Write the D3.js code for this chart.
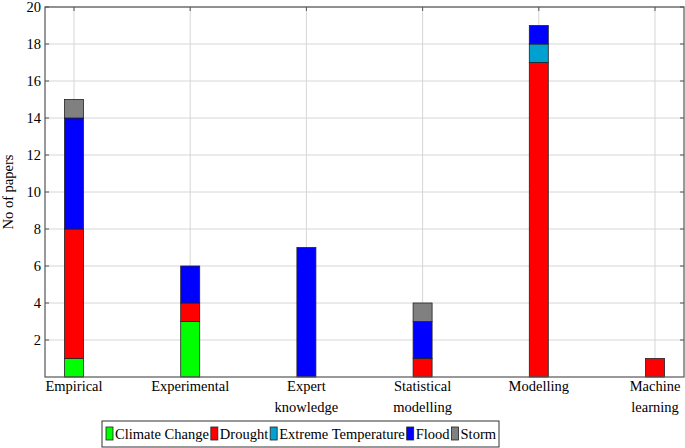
<!DOCTYPE html>
<html lang="en">
<head>
    <meta charset="UTF-8">
    <title>No of papers</title>
    <script src="https://d3js.org/d3.v7.min.js"></script>
    <style>
        body { margin: 0; background: #ffffff; }
    </style>
</head>
<body>
    <svg id="chart" width="685" height="448" font-family="'Liberation Serif', 'Times New Roman', serif"></svg>
    <script>
        const categories = [["Empirical"], ["Experimental"], ["Expert", "knowledge"], ["Statistical", "modelling"], ["Modelling"], ["Machine", "learning"]];
        const seriesNames = ["Climate Change", "Drought", "Extreme Temperature", "Flood", "Storm"];
        const seriesColors = ["#00ff00", "#ff0000", "#00a0d0", "#0000ff", "#808080"];
        const climateChange = [1, 3, 0, 0, 0, 0];
        const drought = [7, 1, 0, 1, 17, 1];
        const extremeTemp = [0, 0, 0, 0, 1, 0];
        const flood = [6, 2, 7, 2, 1, 0];
        const storm = [1, 0, 0, 1, 0, 0];
        const yTicks = [2, 4, 6, 8, 10, 12, 14, 16, 18, 20];

        const svg = d3.select('#chart');
        const plotL = 45, plotR = 684, plotT = 7, plotB = 377;
        const fontSize = 14.5;
        const seriesValues = [climateChange, drought, extremeTemp, flood, storm];

        const rows = categories.map((c, i) => {
            const r = { key: i };
            seriesNames.forEach((s, j) => r[s] = seriesValues[j][i]);
            return r;
        });
        const stacked = d3.stack().keys(seriesNames)(rows);

        const x = d3.scalePoint().domain(d3.range(categories.length)).range([plotL + 29, plotR - 29]);
        const y = d3.scaleLinear().domain([0, 20]).range([plotB, plotT]);

        // grid
        svg.append('g').selectAll('line').data(yTicks).join('line')
            .attr('x1', plotL).attr('x2', plotR)
            .attr('y1', d => y(d)).attr('y2', d => y(d))
            .attr('stroke', '#d6d6d6').attr('stroke-width', 1);
        svg.append('g').selectAll('line').data(x.domain()).join('line')
            .attr('x1', d => x(d)).attr('x2', d => x(d))
            .attr('y1', plotT).attr('y2', plotB)
            .attr('stroke', '#d6d6d6').attr('stroke-width', 1);

        // bars
        const barW = 19;
        stacked.forEach((layer, j) => {
            svg.append('g').selectAll('rect').data(layer.filter(d => d[1] > d[0])).join('rect')
                .attr('x', d => x(d.data.key) - barW / 2)
                .attr('width', barW)
                .attr('y', d => y(d[1]))
                .attr('height', d => y(d[0]) - y(d[1]))
                .attr('fill', seriesColors[j])
                .attr('stroke', '#222')
                .attr('stroke-width', 0.8);
        });

        // ticks on the axes
        svg.append('g').selectAll('line').data(yTicks).join('line')
            .attr('x1', plotL).attr('x2', plotL + 4)
            .attr('y1', d => y(d)).attr('y2', d => y(d))
            .attr('stroke', '#555');
        svg.append('g').selectAll('line').data(yTicks).join('line')
            .attr('x1', plotR - 4).attr('x2', plotR)
            .attr('y1', d => y(d)).attr('y2', d => y(d))
            .attr('stroke', '#555');
        svg.append('g').selectAll('line').data(x.domain()).join('line')
            .attr('x1', d => x(d)).attr('x2', d => x(d))
            .attr('y1', plotT).attr('y2', plotT + 4)
            .attr('stroke', '#555');

        // frame
        svg.append('rect')
            .attr('x', plotL).attr('y', plotT)
            .attr('width', plotR - plotL).attr('height', plotB - plotT)
            .attr('fill', 'none').attr('stroke', '#555').attr('stroke-width', 1.2);

        // y tick labels
        svg.append('g').selectAll('text').data(yTicks).join('text')
            .attr('x', plotL - 4).attr('y', d => y(d))
            .attr('dy', '0.35em')
            .attr('text-anchor', 'end')
            .attr('font-size', fontSize)
            .text(d => d);

        // x labels
        const xl = svg.append('g').selectAll('text').data(categories).join('text')
            .attr('x', (d, i) => x(i))
            .attr('y', 391)
            .attr('text-anchor', 'middle')
            .attr('font-size', fontSize);
        xl.selectAll('tspan').data(d => d).join('tspan')
            .attr('x', function () { return this.parentNode.getAttribute('x'); })
            .attr('dy', (d, i) => i === 0 ? 0 : 21)
            .text(d => d);

        // y axis title
        svg.append('text')
            .attr('transform', `translate(13, ${(plotT + plotB) / 2}) rotate(-90)`)
            .attr('text-anchor', 'middle')
            .attr('font-size', fontSize)
            .text('No of papers');

        // legend
        const legend = svg.append('g');
        const legBox = legend.append('rect')
            .attr('y', 421).attr('height', 26)
            .attr('fill', '#fff').attr('stroke', '#333').attr('stroke-width', 1);
        let lx = 106;
        seriesNames.forEach((s, j) => {
            legend.append('rect')
                .attr('x', lx).attr('y', 427).attr('width', 7).attr('height', 13)
                .attr('fill', seriesColors[j]).attr('stroke', '#222').attr('stroke-width', 0.8);
            const t = legend.append('text')
                .attr('x', lx + 9).attr('y', 439)
                .attr('font-size', fontSize)
                .text(s);
            lx += 9 + t.node().getComputedTextLength() + 2;
        });
        legBox.attr('x', 102).attr('width', lx - 102 + 1);
    </script>
</body>
</html>
